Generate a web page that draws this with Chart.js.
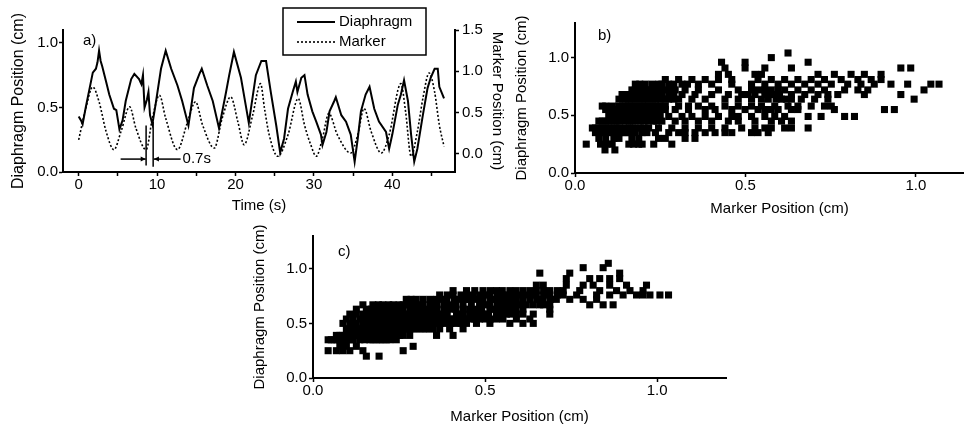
<!DOCTYPE html>
<html>
<head>
<meta charset="utf-8">
<script src="https://cdn.jsdelivr.net/npm/chart.js@4.4.1/dist/chart.umd.min.js"></script>
<style>
  html, body { margin: 0; padding: 0; background: #fff; overflow: hidden; width: 964px; height: 427px; }
  canvas { position: absolute; }
</style>
</head>
<body>
<canvas id="chartA" width="505" height="219" style="left:5px;top:0px"></canvas>
<canvas id="chartB" width="480" height="222" style="left:509px;top:0px"></canvas>
<canvas id="chartC" width="484" height="202" style="left:247px;top:225px"></canvas>
<script>
'use strict';

// ---- panel a: time traces ----
var diaTime = [0, 0.3, 0.5, 0.9, 1.4, 1.8, 2.2, 2.4, 2.6, 2.8, 3.0, 3.5, 3.9, 4.5, 4.8, 5.2, 5.6, 6.0, 6.7, 7.1,
  7.7, 8.0, 8.2, 8.4, 8.7, 8.9, 9.1, 9.4, 9.8, 10.1, 10.5, 11.1, 11.8, 12.6, 13.2, 14.0, 14.7, 15.4, 15.7, 16.4,
  17.1, 17.9, 18.8, 19.2, 19.8, 20.7, 21.3, 21.7, 22.6, 23.3, 23.9, 24.5, 25.2, 25.7, 26.2, 26.7, 27.3, 27.7, 27.9,
  28.4, 28.8, 29.2, 29.8, 30.3, 30.9, 31.1, 31.6, 32.0, 32.6, 32.8, 33.5, 34.1, 34.7, 35.2, 35.6, 36.0, 36.6, 37.1,
  37.7, 38.3, 39.2, 39.6, 40.0, 40.7, 41.1, 41.5, 42.0, 42.4, 42.8, 43.2, 43.9, 44.5, 44.9, 45.4, 45.8, 46.0, 46.6];
var diaPos = [0.43, 0.40, 0.37, 0.50, 0.65, 0.77, 0.80, 0.85, 0.94, 0.86, 0.82, 0.70, 0.60, 0.49, 0.48, 0.33, 0.40, 0.55, 0.72, 0.76,
  0.72, 0.68, 0.75, 0.50, 0.56, 0.62, 0.44, 0.37, 0.52, 0.64, 0.80, 0.94, 0.80, 0.67, 0.55, 0.36, 0.65, 0.76, 0.80, 0.67,
  0.55, 0.34, 0.62, 0.75, 0.93, 0.73, 0.52, 0.38, 0.75, 0.86, 0.86, 0.62, 0.36, 0.15, 0.26, 0.49, 0.62, 0.70, 0.62,
  0.73, 0.75, 0.60, 0.47, 0.39, 0.29, 0.21, 0.31, 0.47, 0.55, 0.58, 0.44, 0.39, 0.29, 0.08, 0.26, 0.47, 0.60, 0.66,
  0.49, 0.39, 0.31, 0.18, 0.29, 0.52, 0.60, 0.71, 0.55, 0.29, 0.08, 0.18, 0.44, 0.65, 0.73, 0.80, 0.80, 0.66, 0.57];

var markerTime = [0, 0.9, 1.8, 2.6, 3.5, 4.5, 5.4, 6.5, 7.3, 8.6, 9.4, 10.3, 11.1, 12.6, 13.9, 14.9, 15.8, 17.3,
  18.3, 19.4, 20.3, 21.1, 22.2, 23.2, 23.7, 24.3, 25.4, 26.7, 28.0, 28.8, 29.6, 30.3, 31.1, 31.9, 33.0, 34.7,
  35.6, 36.4, 37.3, 38.6, 39.6, 41.1, 41.7, 42.4, 43.2, 43.9, 44.7, 45.4, 46.0, 46.6];
var markerPos = [0.17, 0.55, 0.81, 0.63, 0.27, 0.05, 0.27, 0.57, 0.31, 0.05, 0.43, 0.71, 0.43, 0.05, 0.39, 0.63, 0.35, 0.07,
  0.43, 0.69, 0.39, 0.11, 0.47, 0.85, 0.55, 0.23, -0.03, 0.23, 0.67, 0.35, 0.11, -0.03, 0.19, 0.49, 0.23, 0.01,
  0.23, 0.55, 0.27, 0.01, 0.23, 0.85, 0.51, -0.03, 0.27, 0.67, 0.98, 0.75, 0.35, 0.09];

var timeTicks = [0, 5, 10, 15, 20, 25, 30, 35, 40, 45];
var diaTicks = [0, 0.5, 1.0];
var markerTicks = [0, 0.5, 1.0, 1.5];

// ---- panel b: no time shift (diaphragm levels and marker values on each level) ----
var bLevels = [0.20, 0.25, 0.30, 0.35, 0.39, 0.45, 0.49, 0.55, 0.58, 0.64, 0.68, 0.72, 0.77, 0.81, 0.855, 0.91, 0.96, 1.00, 1.04];
var bMarker = [
  [0.088, 0.117],
  [0.033, 0.075, 0.094, 0.109, 0.158, 0.172, 0.187, 0.197, 0.231, 0.284],
  [0.070, 0.090, 0.114, 0.129, 0.167, 0.187, 0.245, 0.265, 0.323, 0.352],
  [0.060, 0.070, 0.080, 0.090, 0.104, 0.114, 0.129, 0.138, 0.148, 0.158, 0.177, 0.197, 0.211, 0.236, 0.275, 0.304,
    0.323, 0.352, 0.382, 0.411, 0.440, 0.460, 0.518, 0.537, 0.567],
  [0.051, 0.060, 0.070, 0.080, 0.090, 0.100, 0.114, 0.123, 0.133, 0.143, 0.155, 0.167, 0.177, 0.192, 0.205, 0.216,
    0.245, 0.284, 0.323, 0.362, 0.401, 0.440, 0.489, 0.528, 0.557, 0.576, 0.615, 0.635, 0.684],
  [0.070, 0.080, 0.090, 0.100, 0.109, 0.120, 0.130, 0.148, 0.160, 0.170, 0.187, 0.200, 0.216, 0.230, 0.240, 0.255,
    0.294, 0.323, 0.362, 0.401, 0.450, 0.479, 0.528, 0.576, 0.606, 0.635],
  [0.099, 0.110, 0.119, 0.128, 0.138, 0.148, 0.158, 0.168, 0.177, 0.187, 0.197, 0.206, 0.216, 0.226, 0.236, 0.250,
    0.275, 0.314, 0.343, 0.382, 0.421, 0.460, 0.479, 0.518, 0.557, 0.586, 0.615, 0.684, 0.722, 0.791, 0.820],
  [0.090, 0.110, 0.129, 0.148, 0.167, 0.177, 0.187, 0.197, 0.206, 0.216, 0.226, 0.245, 0.255, 0.265, 0.294, 0.333,
    0.382, 0.411, 0.460, 0.499, 0.537, 0.557, 0.576, 0.596, 0.635, 0.654, 0.761, 0.908, 0.937],
  [0.080, 0.090, 0.109, 0.128, 0.148, 0.158, 0.167, 0.177, 0.187, 0.197, 0.206, 0.216, 0.226, 0.236, 0.250, 0.265,
    0.304, 0.333, 0.362, 0.401, 0.440, 0.479, 0.518, 0.547, 0.586, 0.625, 0.654, 0.693, 0.732, 0.752],
  [0.129, 0.140, 0.148, 0.158, 0.167, 0.177, 0.187, 0.197, 0.206, 0.216, 0.226, 0.236, 0.245, 0.255, 0.265, 0.275,
    0.290, 0.304, 0.343, 0.382, 0.440, 0.479, 0.518, 0.547, 0.567, 0.590, 0.606, 0.620, 0.635, 0.664, 0.703, 0.742, 0.995],
  [0.138, 0.148, 0.158, 0.167, 0.177, 0.187, 0.197, 0.206, 0.216, 0.226, 0.236, 0.245, 0.255, 0.275, 0.290, 0.314,
    0.352, 0.401, 0.450, 0.489, 0.508, 0.528, 0.557, 0.570, 0.586, 0.600, 0.635, 0.674, 0.713, 0.742, 0.771, 0.849, 0.956],
  [0.167, 0.177, 0.187, 0.197, 0.206, 0.216, 0.226, 0.245, 0.265, 0.280, 0.294, 0.323, 0.362, 0.421, 0.479, 0.518,
    0.537, 0.556, 0.576, 0.596, 0.615, 0.654, 0.693, 0.732, 0.791, 0.830, 0.859, 1.024],
  [0.177, 0.190, 0.206, 0.226, 0.245, 0.255, 0.275, 0.290, 0.314, 0.330, 0.362, 0.401, 0.460, 0.518, 0.557, 0.596,
    0.635, 0.674, 0.713, 0.752, 0.800, 0.839, 0.878, 0.927, 0.976, 1.044, 1.068],
  [0.265, 0.304, 0.343, 0.382, 0.421, 0.460, 0.537, 0.576, 0.615, 0.654, 0.693, 0.732, 0.781, 0.830, 0.869, 0.898],
  [0.421, 0.450, 0.528, 0.547, 0.713, 0.761, 0.810, 0.849, 0.898],
  [0.440, 0.499, 0.557, 0.635, 0.956, 0.985],
  [0.430, 0.499, 0.684],
  [0.576],
  [0.625]
];

// ---- panel c: marker shifted by 0.7 s ----
var cLevels = [0.20, 0.25, 0.29, 0.35, 0.39, 0.45, 0.50, 0.54, 0.585, 0.63, 0.67, 0.72, 0.76, 0.80, 0.85, 0.91, 0.96, 1.01, 1.05];
var cMarker = [
  [0.155, 0.192],
  [0.044, 0.068, 0.087, 0.107, 0.145, 0.262],
  [0.078, 0.097, 0.126, 0.291],
  [0.044, 0.053, 0.063, 0.070, 0.078, 0.088, 0.097, 0.107, 0.117, 0.136, 0.150, 0.165, 0.174, 0.184, 0.194, 0.203,
    0.213, 0.223, 0.242],
  [0.068, 0.078, 0.087, 0.097, 0.107, 0.116, 0.126, 0.136, 0.150, 0.160, 0.170, 0.180, 0.194, 0.203, 0.213, 0.223,
    0.233, 0.242, 0.252, 0.262, 0.281, 0.359, 0.407],
  [0.097, 0.107, 0.116, 0.126, 0.136, 0.145, 0.155, 0.165, 0.174, 0.184, 0.194, 0.203, 0.213, 0.223, 0.233, 0.242,
    0.252, 0.262, 0.271, 0.281, 0.290, 0.300, 0.310, 0.320, 0.329, 0.339, 0.349, 0.368, 0.397, 0.436],
  [0.087, 0.107, 0.126, 0.145, 0.155, 0.170, 0.184, 0.200, 0.213, 0.230, 0.242, 0.260, 0.271, 0.285, 0.300, 0.315,
    0.329, 0.345, 0.359, 0.370, 0.388, 0.400, 0.417, 0.430, 0.446, 0.475, 0.514, 0.572, 0.610, 0.640],
  [0.097, 0.116, 0.136, 0.150, 0.165, 0.180, 0.194, 0.210, 0.223, 0.240, 0.252, 0.265, 0.281, 0.295, 0.310, 0.325,
    0.339, 0.355, 0.368, 0.380, 0.397, 0.410, 0.426, 0.440, 0.455, 0.470, 0.484, 0.500, 0.515, 0.533, 0.552, 0.591, 0.630],
  [0.107, 0.126, 0.145, 0.160, 0.174, 0.190, 0.203, 0.220, 0.233, 0.250, 0.262, 0.275, 0.291, 0.305, 0.320, 0.335,
    0.349, 0.360, 0.378, 0.390, 0.417, 0.435, 0.455, 0.475, 0.494, 0.510, 0.533, 0.550, 0.562, 0.575, 0.591, 0.610,
    0.640, 0.688],
  [0.126, 0.155, 0.170, 0.184, 0.200, 0.213, 0.230, 0.242, 0.260, 0.281, 0.290, 0.300, 0.315, 0.329, 0.345, 0.359,
    0.380, 0.397, 0.415, 0.436, 0.455, 0.475, 0.490, 0.514, 0.530, 0.543, 0.555, 0.572, 0.590, 0.610, 0.688],
  [0.145, 0.174, 0.190, 0.203, 0.220, 0.233, 0.250, 0.262, 0.280, 0.291, 0.305, 0.320, 0.340, 0.359, 0.380, 0.397,
    0.415, 0.436, 0.460, 0.484, 0.500, 0.514, 0.535, 0.552, 0.565, 0.581, 0.600, 0.620, 0.640, 0.659, 0.670, 0.688,
    0.804, 0.843, 0.872],
  [0.271, 0.285, 0.300, 0.320, 0.340, 0.359, 0.370, 0.388, 0.410, 0.426, 0.440, 0.455, 0.475, 0.494, 0.515, 0.533,
    0.550, 0.562, 0.575, 0.591, 0.610, 0.630, 0.650, 0.669, 0.690, 0.707, 0.746, 0.785, 0.824],
  [0.368, 0.390, 0.407, 0.430, 0.446, 0.465, 0.484, 0.500, 0.514, 0.535, 0.552, 0.565, 0.581, 0.600, 0.620, 0.635,
    0.649, 0.670, 0.688, 0.710, 0.727, 0.766, 0.824, 0.862, 0.901, 0.940, 0.959, 0.979, 1.008, 1.033],
  [0.407, 0.446, 0.470, 0.494, 0.515, 0.533, 0.550, 0.572, 0.590, 0.610, 0.630, 0.649, 0.670, 0.688, 0.710, 0.727,
    0.775, 0.833, 0.882, 0.921, 0.959],
  [0.649, 0.669, 0.736, 0.785, 0.814, 0.862, 0.911, 0.969],
  [0.736, 0.804, 0.833, 0.862, 0.891],
  [0.659, 0.746, 0.891],
  [0.785, 0.843],
  [0.858]
];

var scatterXTicks = [0, 0.5, 1.0];
var scatterYTicks = [0, 0.5, 1.0];

var FONT = '"Liberation Sans", Arial, Helvetica, sans-serif';
Chart.defaults.font.family = FONT;
Chart.defaults.font.size = 15;
Chart.defaults.color = '#000';

function toPoints(xs, ys) {
  return xs.map(function (x, i) { return {x: x, y: ys[i]}; });
}

function rowsToPoints(levels, rows) {
  var pts = [];
  levels.forEach(function (lvl, i) {
    rows[i].forEach(function (x) { pts.push({x: x, y: lvl}); });
  });
  return pts;
}

function oneDecimal(v) { return Number(v).toFixed(1); }

// builds a plain black axis with outward ticks and a fixed box size
function axis(o) {
  return {
    type: 'linear',
    position: o.position,
    min: o.min,
    max: o.max,
    afterBuildTicks: function (scale) {
      scale.ticks = o.ticks.map(function (v) { return {value: v}; });
    },
    afterFit: function (scale) {
      if (scale.isHorizontal()) scale.height = o.size;
      else scale.width = o.size;
    },
    border: {display: true, color: '#000', width: 2},
    grid: {drawOnChartArea: false, drawTicks: true, tickLength: 4, tickWidth: 1.5, tickColor: '#000'},
    ticks: {autoSkip: false, maxRotation: 0, padding: o.pad, color: '#000', font: {size: 15}, callback: o.label || oneDecimal},
    title: {display: true, text: o.title, color: '#000', font: {size: o.titleSize || 15},
      padding: o.titlePad || {top: 4, bottom: 4}}
  };
}

// "a)", "b)", "c)" tags
var panelLabel = {
  id: 'panelLabel',
  afterDraw: function (chart, args, opts) {
    var ctx = chart.ctx, area = chart.chartArea;
    ctx.save();
    ctx.font = '15px ' + FONT;
    ctx.fillStyle = '#000';
    ctx.textBaseline = 'middle';
    ctx.fillText(opts.text, area.left + opts.dx, area.top + opts.dy);
    ctx.restore();
  }
};

// boxed legend of panel a
var boxLegend = {
  id: 'boxLegend',
  afterDraw: function (chart) {
    var ctx = chart.ctx, area = chart.chartArea;
    var left = area.left + 220, top = area.top - 22;
    ctx.save();
    ctx.fillStyle = '#fff';
    ctx.fillRect(left, top, 143, 47);
    ctx.strokeStyle = '#000';
    ctx.lineWidth = 1.5;
    ctx.strokeRect(left, top, 143, 47);
    chart.data.datasets.forEach(function (ds, i) {
      var y = top + 14 + i * 20;
      ctx.beginPath();
      ctx.setLineDash(ds.borderDash || []);
      ctx.lineWidth = ds.borderWidth;
      ctx.moveTo(left + 14, y);
      ctx.lineTo(left + 52, y);
      ctx.stroke();
      ctx.setLineDash([]);
      ctx.fillStyle = '#000';
      ctx.font = '15px ' + FONT;
      ctx.textBaseline = 'middle';
      ctx.fillText(ds.label, left + 56, y);
    });
    ctx.restore();
  }
};

// the 0.7 s lag marks
var lagBars = [[8.6, 0.36, 0.05], [9.5, 0.39, 0.04]];
var lagArrowY = 0.10;
var lagArrowLeft = [5.35, 8.55];
var lagArrowRight = [13.0, 9.6];
var lagText = '0.7s';

function arrow(ctx, x0, x1, y) {
  var dir = x1 > x0 ? 1 : -1;
  ctx.beginPath();
  ctx.moveTo(x0, y);
  ctx.lineTo(x1, y);
  ctx.stroke();
  ctx.beginPath();
  ctx.moveTo(x1, y);
  ctx.lineTo(x1 - dir * 5, y - 2.5);
  ctx.lineTo(x1 - dir * 5, y + 2.5);
  ctx.closePath();
  ctx.fill();
}

var lagMarks = {
  id: 'lagMarks',
  afterDatasetsDraw: function (chart) {
    var ctx = chart.ctx, sx = chart.scales.x, sy = chart.scales.y;
    ctx.save();
    ctx.strokeStyle = '#000';
    ctx.fillStyle = '#000';
    ctx.lineWidth = 1.5;
    lagBars.forEach(function (b) {
      ctx.beginPath();
      ctx.moveTo(sx.getPixelForValue(b[0]), sy.getPixelForValue(b[1]));
      ctx.lineTo(sx.getPixelForValue(b[0]), sy.getPixelForValue(b[2]));
      ctx.stroke();
    });
    var ay = sy.getPixelForValue(lagArrowY);
    arrow(ctx, sx.getPixelForValue(lagArrowLeft[0]), sx.getPixelForValue(lagArrowLeft[1]), ay);
    arrow(ctx, sx.getPixelForValue(lagArrowRight[0]), sx.getPixelForValue(lagArrowRight[1]), ay);
    ctx.font = '15px ' + FONT;
    ctx.textBaseline = 'middle';
    ctx.fillText(lagText, sx.getPixelForValue(lagArrowRight[0]) + 2, ay);
    ctx.restore();
  }
};

// Panel a: diaphragm and marker vs time
new Chart(document.getElementById('chartA').getContext('2d'), {
  type: 'line',
  data: {
    datasets: [
      {
        label: 'Diaphragm',
        data: toPoints(diaTime, diaPos),
        yAxisID: 'y',
        borderColor: '#000',
        borderWidth: 2,
        pointRadius: 0,
        tension: 0
      },
      {
        label: 'Marker',
        data: toPoints(markerTime, markerPos),
        yAxisID: 'y2',
        borderColor: '#000',
        borderWidth: 1.6,
        borderDash: [2, 2],
        pointRadius: 0,
        cubicInterpolationMode: 'monotone'
      }
    ]
  },
  options: {
    responsive: false,
    animation: false,
    devicePixelRatio: 1,
    layout: {padding: {top: 30, left: 0, right: 0, bottom: 0}},
    plugins: {
      legend: {display: false},
      tooltip: {enabled: false},
      panelLabel: {text: 'a)', dx: 20, dy: 11}
    },
    scales: {
      x: axis({position: 'bottom', min: -2, max: 48, ticks: timeTicks, size: 47, pad: 0, title: 'Time (s)',
        label: function (v) { return v % 10 === 0 ? String(v) : ''; }}),
      y: axis({position: 'left', min: 0, max: 1.1, ticks: diaTicks, size: 58, pad: 1,
        title: 'Diaphragm Position (cm)', titleSize: 16}),
      y2: axis({position: 'right', min: -0.22, max: 1.5, ticks: markerTicks, size: 55, pad: 3,
        title: 'Marker Position (cm)'})
    }
  },
  plugins: [panelLabel, boxLegend, lagMarks]
});

function scatterChart(id, points, tag, dx, dy, padding, xTitlePad) {
  return new Chart(document.getElementById(id).getContext('2d'), {
    type: 'scatter',
    data: {
      datasets: [{
        data: points,
        pointStyle: 'rect',
        pointRadius: 5,
        backgroundColor: '#000',
        borderWidth: 0
      }]
    },
    options: {
      responsive: false,
      animation: false,
      devicePixelRatio: 1,
      layout: {padding: padding},
      plugins: {
        legend: {display: false},
        tooltip: {enabled: false},
        panelLabel: {text: tag, dx: dx, dy: dy}
      },
      scales: {
        x: axis({position: 'bottom', min: 0, max: 1.2, ticks: scatterXTicks, size: 49, pad: 0,
          title: 'Marker Position (cm)', titlePad: xTitlePad}),
        y: axis({position: 'left', min: 0, max: 1.3, ticks: scatterYTicks, size: 66, pad: 2,
          title: 'Diaphragm Position (cm)'})
      }
    },
    plugins: [panelLabel]
  });
}

scatterChart('chartB', rowsToPoints(bLevels, bMarker), 'b)', 23, 13,
  {top: 23, left: 0, right: 4, bottom: 0}, {top: 4, bottom: 4});
scatterChart('chartC', rowsToPoints(cLevels, cMarker), 'c)', 25, 16,
  {top: 5, left: 0, right: 5, bottom: 0}, {top: 4, bottom: 1});
</script>
</body>
</html>
